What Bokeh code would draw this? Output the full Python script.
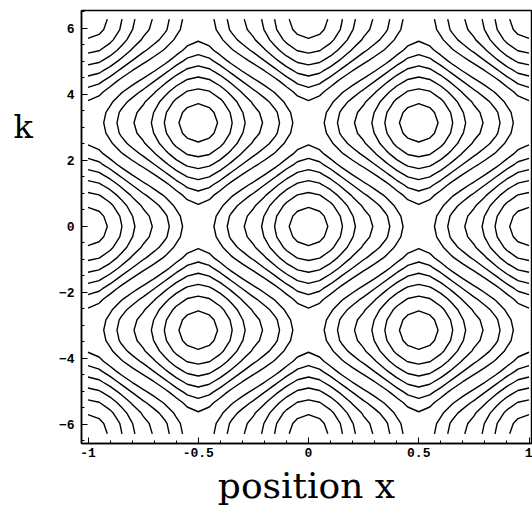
import numpy as np
from bokeh.plotting import figure
from bokeh.models import FixedTicker, Range1d
from bokeh.layouts import row
from bokeh.core.properties import value
from bokeh.embed import file_html
from bokeh.resources import INLINE

# ---- data ----
# phase-space grid: position x and momentum k (Harper-type energy surface)
x_values = np.linspace(-1.0, 1.0, 41)
k_values = np.linspace(-2 * np.pi, 2 * np.pi, 41)
amp_x = 1.0
amp_k = 1.0
saddle_sharpness = 0.35   # extra x-curvature at the saddles seen in the picture
# contour levels (six rings round every extremum)
levels = [-1.83, -1.51, -1.18, -0.85, -0.53, -0.22,
          0.22, 0.53, 0.85, 1.18, 1.51, 1.83]
x_ticks = [-1, -0.5, 0, 0.5, 1]
x_tick_labels = {-1: "-1", -0.5: "-0.5", 0: "0", 0.5: "0.5", 1: "1"}
k_ticks = [-6, -4, -2, 0, 2, 4, 6]
x_minor = [round(v, 2) for v in np.arange(-1.0, 1.01, 0.1)]
k_minor = [round(v, 2) for v in np.arange(-6.5, 6.6, 0.5)]
x_label = "position x"
k_label = "k"

XX, KK = np.meshgrid(x_values, k_values)
U = 2 * np.pi * XX
energy = (amp_x * np.cos(U) + amp_k * np.cos(KK)
          - saddle_sharpness * np.cos(U) * np.sin(U) ** 2 * (1 - np.cos(U) * np.cos(KK)))

# ---- main contour figure ----
p = figure(frame_width=450, frame_height=433,
           x_range=Range1d(-1.0295, 1.0113), y_range=Range1d(-6.576, 6.545),
           output_backend="svg", toolbar_location=None,
           min_border_left=41, min_border_right=1, min_border_top=10,
           min_border_bottom=63)
p.grid.visible = False
p.background_fill_color = "white"
p.border_fill_color = "white"
p.outline_line_color = "black"
p.outline_line_width = 1.5

p.contour(x_values, k_values, energy, levels,
          line_color="black", line_width=1.4, fill_color=None)

bottom_axis = p.below[0]
left_axis = p.left[0]
tick_font = "Liberation Mono"
for ax in (bottom_axis, left_axis):
    ax.axis_line_width = 1.5
    ax.major_tick_in = 6
    ax.major_tick_out = 0
    ax.minor_tick_in = 3
    ax.minor_tick_out = 0
    ax.major_label_text_font = tick_font
    ax.major_label_text_font_size = "13px"
    ax.major_label_text_font_style = "bold"
    ax.major_label_text_color = "black"

bottom_axis.ticker = FixedTicker(ticks=x_ticks, minor_ticks=x_minor)
bottom_axis.major_label_overrides = x_tick_labels
bottom_axis.major_label_standoff = 4
bottom_axis.axis_label = x_label
bottom_axis.axis_label_text_font = "DejaVu Serif"
bottom_axis.axis_label_text_font_size = "36px"
bottom_axis.axis_label_text_font_style = "normal"
bottom_axis.axis_label_text_color = "black"
bottom_axis.axis_label_standoff = 5
left_axis.ticker = FixedTicker(ticks=k_ticks, minor_ticks=k_minor)
left_axis.major_label_standoff = 7

# ---- narrow side panel holding the horizontal "k" label ----
kfig = figure(width=40, height=506, x_range=Range1d(0, 40), y_range=Range1d(0, 506),
              x_axis_type=None, y_axis_type=None, output_backend="svg",
              toolbar_location=None, min_border=0)
kfig.outline_line_color = None
kfig.grid.visible = False
kfig.text(x=[13], y=[369], text=[k_label], text_font=value("DejaVu Serif"),
          text_font_size="32px", text_baseline="alphabetic", text_align="left",
          text_color="black")

layout = row(kfig, p, spacing=0)
open("out.html", "w").write(file_html(layout, INLINE))
